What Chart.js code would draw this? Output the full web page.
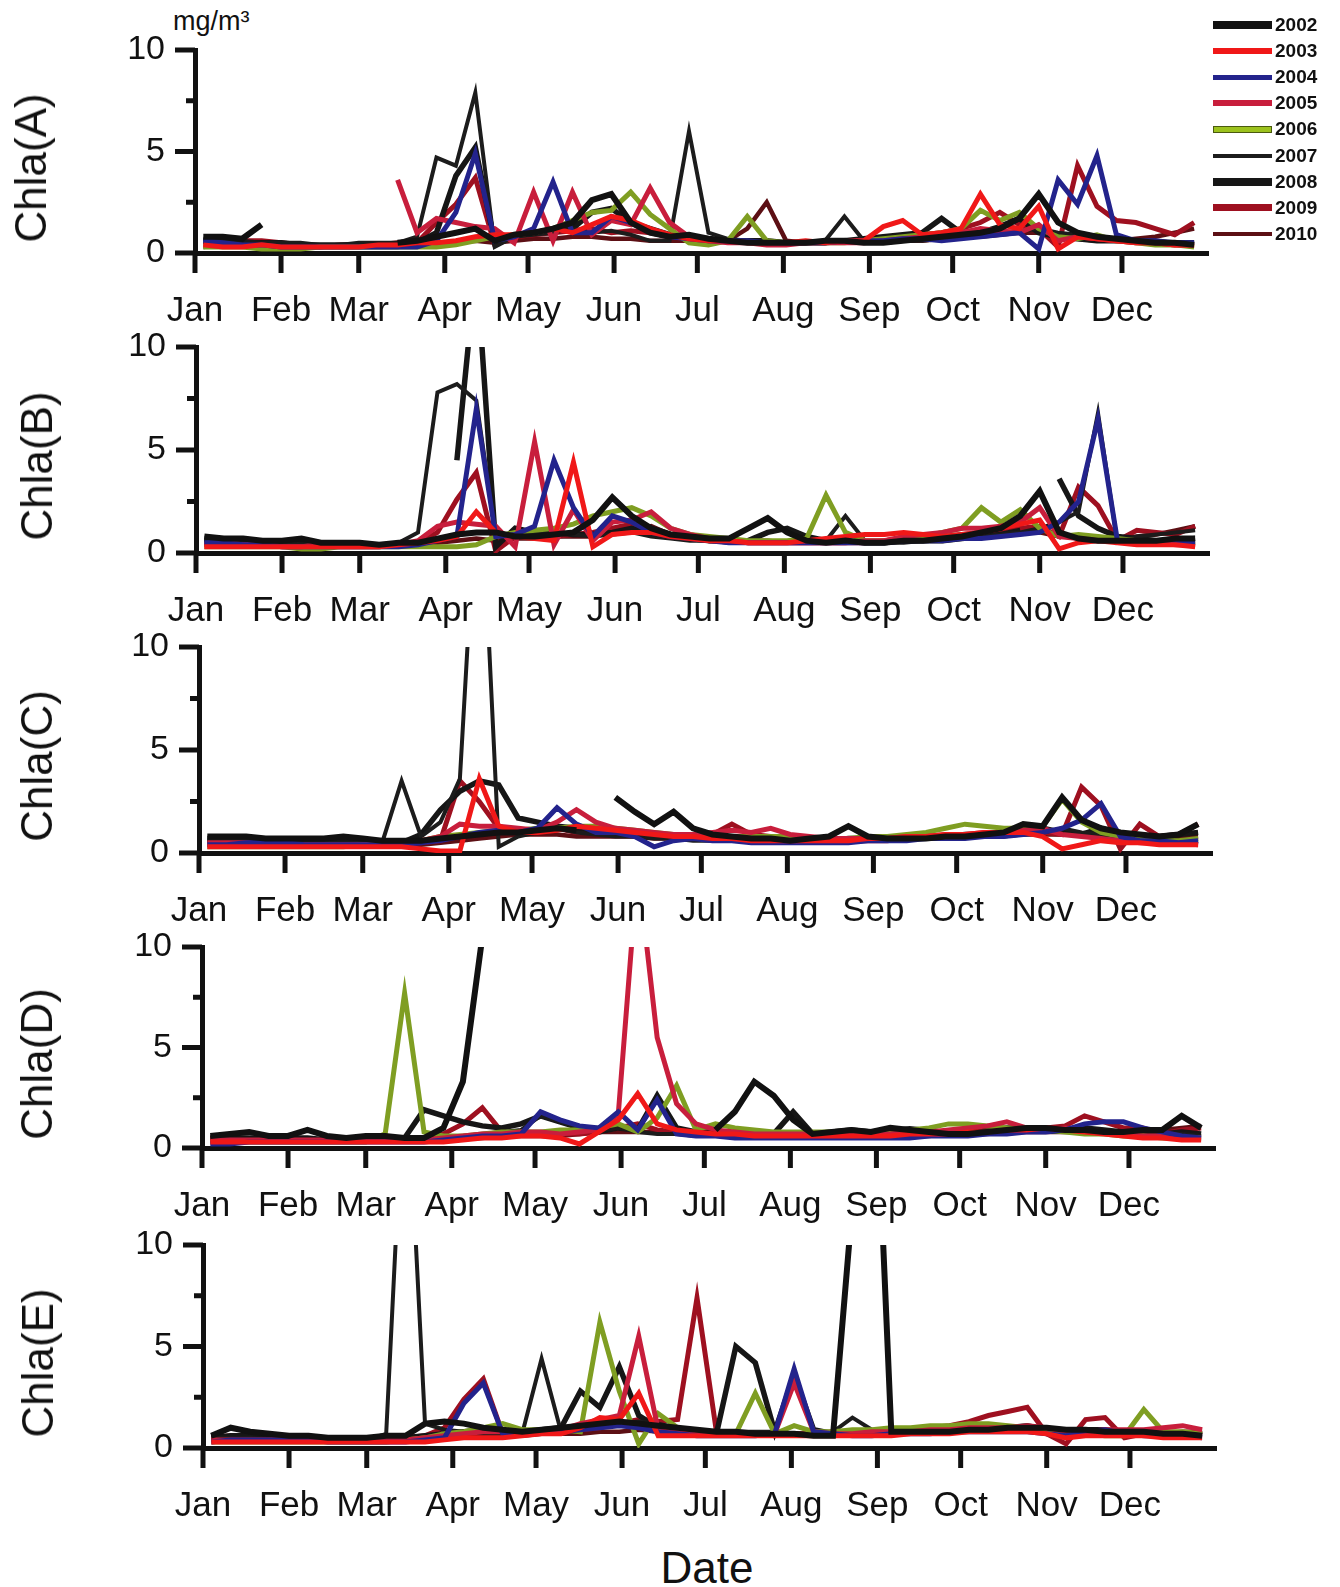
<!DOCTYPE html>
<html>
<head>
<meta charset="utf-8">
<script src="https://cdn.jsdelivr.net/npm/chart.js@4.4.0/dist/chart.umd.min.js"></script>
<style>
body { margin:0; background:#fff; width:1340px; height:1587px; position:relative; overflow:hidden; font-family:"Liberation Sans", Arial, sans-serif; color:#111; }
canvas { position:absolute; left:0; }
.ytitle { position:absolute; transform:translate(-50%,-50%) rotate(-90deg); font-size:44px; white-space:nowrap; }
.unit { position:absolute; left:173px; top:6px; font-size:27px; }
.date { position:absolute; left:707px; top:1568px; transform:translate(-50%,-50%); font-size:44px; }
.leg { position:absolute; left:1213px; font-size:19px; font-weight:bold; }
.leg span.sw { position:absolute; left:0; width:59px; }
.leg span.tx { position:absolute; left:62px; top:-11px; }
</style>
</head>
<body>
<div class="unit">mg/m³</div>
<div class="date">Date</div>
<script>
// sampling days (day of year) shared by every series
var sampleDays = [3,10,17,24,31,38,45,52,59,66,73,80,87,94,101,108,115,122,129,136,143,150,157,164,171,178,185,192,199,206,213,220,227,234,241,248,255,262,269,276,283,290,297,304,311,318,325,332,339,346,353,360];
var monthStarts = [0,31,59,90,120,151,181,212,243,273,304,334];
var monthNames = ['Jan','Feb','Mar','Apr','May','Jun','Jul','Aug','Sep','Oct','Nov','Dec'];
var years = ['2002','2003','2004','2005','2006','2007','2008','2009','2010'];

// Chla(A)
var chlaA_2002 = [0.8,0.8,0.7,1.4, null,null,null,null, null,null,0.5,0.6, 0.8,1.0,1.2,0.6, 0.9,1.0,1.2,1.5, 2.6,2.9,1.5,1.0, 0.8,0.9,0.7,0.6, 0.5,0.5,0.5,0.5, 0.6,0.6,0.5,0.5, 0.6,0.7,0.8,0.9, 1.0,1.2,1.7,2.9, 1.5,1.0,0.8,0.7, 0.6,0.5,0.5,0.4];
var chlaA_2003 = [0.4,0.3,0.3,0.4, 0.3,0.3,0.3,0.3, 0.3,0.4,0.4,0.5, 0.5,0.6,0.8,0.9, 0.9,1.0,1.2,1.0, 1.4,1.8,1.6,1.2, 0.9,0.7,0.6,0.6, 0.5,0.5,0.5,0.6, 0.5,0.6,0.6,1.3, 1.6,0.9,1.0,1.2, 2.9,1.4,1.2,2.3, 0.2,0.8,0.7,0.6, 0.5,0.5,0.4,0.4];
var chlaA_2004 = [0.6,0.5,0.4,0.4, 0.3,0.3,0.3,0.3, 0.3,0.3,0.3,0.3, 0.6,2.0,4.9,0.6, 0.8,1.2,3.5,1.0, 1.0,1.8,1.5,1.0, 0.8,0.7,0.6,0.6, 0.6,0.5,0.5,0.5, 0.5,0.6,0.6,0.6, 0.7,0.7,0.6,0.7, 0.8,0.9,1.0,0.2, 3.6,2.4,4.8,0.9, 0.6,0.6,0.5,0.5];
var chlaA_2005 = [null,null,null,null, null,null,null,null, null,null,3.6,1.0, 1.7,1.5,1.3,1.2, 0.5,3.0,0.6,3.0, 0.9,1.6,1.4,3.2, 1.5,0.8,0.6,0.5, 0.5,0.4,0.4,0.5, 0.5,0.5,0.5,0.6, 0.7,0.8,0.9,1.0, 1.2,1.1,1.0,1.4, 0.6,0.8,0.7,0.6, 0.5,0.5,0.4,0.4];
var chlaA_2006 = [0.3,0.3,0.3,0.2, 0.2,0.2,0.3,0.3, 0.3,0.3,0.3,0.3, 0.3,0.4,0.6,0.8, 0.9,1.0,1.2,1.6, 2.0,2.1,3.0,1.9, 1.2,0.5,0.4,0.6, 1.8,0.6,0.5,0.5, 0.5,0.5,0.6,0.7, 0.8,0.9,1.0,1.2, 2.1,1.6,2.0,1.2, 0.8,0.7,0.9,0.6, 0.5,0.4,0.4,0.3];
var chlaA_2007 = [0.7,0.6,0.6,0.5, 0.5,0.5,0.4,0.4, 0.5,0.5,0.5,0.8, 4.7,4.3,7.9,0.3, 0.8,0.9,1.0,1.2, 1.0,1.1,0.9,0.6, 0.6,6.0,1.0,0.7, 0.6,0.5,0.5,0.5, 0.6,1.8,0.6,0.5, 0.6,0.6,0.7,0.8, 0.9,1.0,1.1,1.2, 1.0,0.9,0.8,0.7, 0.6,0.6,0.5,0.5];
var chlaA_2008 = [0.6,0.5,0.5,0.5, 0.5,0.4,0.4,0.4, 0.4,0.4,0.4,0.5, 1.0,3.8,5.2,0.5, 0.9,1.0,1.1,1.2, 2.0,2.2,1.5,1.2, 0.9,0.8,0.7,0.6, 0.6,0.6,0.5,0.5, 0.5,0.6,0.7,0.8, 0.9,1.0,1.7,1.0, 1.0,1.3,1.7,1.0, 0.8,0.7,0.6,0.6, 0.6,0.5,0.5,0.5];
var chlaA_2009 = [0.4,0.5,0.6,0.6, 0.5,0.4,0.3,0.4, 0.4,0.4,0.5,0.5, 1.5,2.4,3.7,0.4, 0.8,0.9,1.0,1.1, 1.2,1.0,1.1,1.0, 0.8,0.7,0.6,0.6, 0.6,0.5,0.5,0.5, 0.5,0.6,0.6,0.7, 0.8,0.9,1.0,1.2, 1.5,2.0,1.4,1.2, 0.3,4.3,2.3,1.6, 1.5,1.2,0.9,1.5];
var chlaA_2010 = [0.3,0.4,0.4,0.3, 0.3,0.3,0.3,0.3, 0.3,0.3,0.3,0.4, 0.4,0.5,0.6,0.5, 0.6,0.7,0.7,0.8, 0.8,0.7,0.7,0.6, 0.6,0.6,0.6,0.6, 1.2,2.5,0.6,0.5, 0.5,0.5,0.5,0.5, 0.6,0.6,0.7,0.8, 0.8,0.9,1.0,1.0, 0.8,0.7,0.6,0.6, 0.7,0.8,1.0,1.2];

// Chla(B)
var chlaB_2002 = [0.8,0.7,0.7,0.6, 0.6,0.7,0.5,0.5, 0.5,0.4,0.5,0.5, 0.7,0.9,1.0,1.0, 0.8,0.8,0.9,1.0, 1.6,2.7,1.8,1.2, 0.9,0.8,0.7,0.7, 1.2,1.7,1.0,0.6, 0.5,0.6,0.5,0.5, 0.6,0.6,0.7,0.8, 1.0,1.2,1.8,3.0, 1.0,0.7,0.6,0.6, 0.6,0.6,0.7,0.7];
var chlaB_2003 = [0.3,0.3,0.3,0.3, 0.3,0.3,0.3,0.3, 0.3,0.3,0.4,0.5, 0.6,0.8,2.0,1.0, 0.8,0.7,0.6,4.4, 0.3,0.9,1.0,1.0, 0.8,0.7,0.6,0.6, 0.5,0.5,0.5,0.6, 0.7,0.8,0.9,0.9, 1.0,0.9,0.8,0.9, 1.0,1.2,1.4,1.6, 0.2,0.5,0.6,0.5, 0.4,0.4,0.4,0.3];
var chlaB_2004 = [0.5,0.5,0.4,0.4, 0.3,0.3,0.3,0.3, 0.3,0.3,0.3,0.4, 0.6,0.8,7.0,0.8, 0.9,1.3,4.5,2.2, 0.8,1.8,1.5,1.0, 0.8,0.7,0.6,0.5, 0.5,0.5,0.5,0.5, 0.5,0.5,0.5,0.5, 0.6,0.6,0.6,0.7, 0.7,0.8,0.9,1.0, 1.5,2.5,6.5,0.6, 0.6,0.6,0.5,0.5];
var chlaB_2005 = [0.4,0.5,0.4,0.4, 0.3,0.3,0.4,0.3, 0.3,0.3,0.4,0.6, 1.3,1.5,1.4,1.3, 0.3,5.4,0.4,2.1, 0.6,1.5,1.6,2.0, 1.2,0.9,0.7,0.6, 0.5,0.5,0.5,0.5, 0.5,0.5,0.6,0.6, 0.8,0.9,1.0,1.2, 1.2,1.3,1.5,2.2, 0.8,0.7,0.6,0.6, 0.5,0.5,0.4,0.4];
var chlaB_2006 = [0.3,0.3,0.3,0.3, 0.3,0.2,0.2,0.3, 0.3,0.3,0.3,0.3, 0.3,0.3,0.4,0.8, 1.0,1.1,1.2,1.4, 1.8,2.0,2.2,1.8, 1.2,0.9,0.8,0.7, 0.6,0.6,0.6,0.7, 2.8,1.0,0.6,0.6, 0.7,0.8,1.0,1.2, 2.2,1.5,2.1,1.2, 0.8,0.9,0.8,0.7, 0.6,0.5,0.5,0.4];
var chlaB_2007 = [0.6,0.6,0.5,0.5, 0.5,0.4,0.4,0.4, 0.4,0.4,0.5,1.0, 7.8,8.2,7.4,0.8, 0.8,0.9,1.0,0.9, 0.8,0.9,1.0,0.8, 0.7,0.6,0.6,0.5, 0.5,0.5,0.5,0.6, 0.6,1.8,0.6,0.5, 0.5,0.6,0.6,0.7, 0.8,0.9,1.0,1.2, 1.5,2.0,6.8,0.5, 0.8,0.9,1.0,1.1];
var chlaB_2008 = [0.7,0.6,0.6,0.5, 0.5,0.5,0.5,0.4, 0.4,0.4,0.4,null, null,4.5,14,0.3, 1.2,1.0,1.0,0.9, 0.9,1.0,1.2,0.9, 0.8,0.7,0.6,0.6, 0.6,1.0,1.2,0.8, 0.6,0.6,0.5,0.5, 0.6,0.6,0.6,0.7, 0.8,0.9,1.1,null, 3.6,1.8,1.2,0.8, 0.7,0.6,0.6,0.7];
var chlaB_2009 = [0.5,0.5,0.4,0.4, 0.4,0.3,0.3,0.4, 0.4,0.4,0.4,0.5, 1.0,2.6,3.9,0.1, 0.8,0.9,0.8,0.9, 1.0,1.2,1.4,1.2, 0.9,0.8,0.6,0.6, 0.5,0.5,0.5,0.5, 0.5,0.5,0.5,0.6, 0.7,0.7,0.8,0.9, 1.0,1.1,1.2,1.3, 0.8,3.2,2.3,0.6, 1.1,1.0,0.9,1.3];
var chlaB_2010 = [0.4,0.4,0.3,0.3, 0.3,0.3,0.3,0.3, 0.3,0.3,0.3,0.4, 0.5,0.6,0.7,0.6, 0.7,0.7,0.8,0.8, 0.8,1.0,1.1,1.3, 0.9,0.7,0.6,0.6, 0.6,0.6,0.5,0.5, 0.5,0.5,0.5,0.6, 0.6,0.7,0.8,0.8, 0.8,0.9,1.0,1.0, 0.8,0.8,0.7,0.7, 0.8,0.9,1.1,1.3];

// Chla(C)
var chlaC_2002 = [0.8,0.8,0.8,0.7, 0.7,0.7,0.7,0.8, 0.7,0.6,0.6,0.6, 0.7,0.8,0.9,1.0, 1.0,1.1,1.2,1.1, null,2.7,2.0,1.4, 2.0,1.2,0.9,0.8, 0.7,0.7,0.6,0.7, 0.8,1.3,0.8,0.7, 0.7,0.7,0.8,0.8, 0.9,1.0,1.4,1.3, 2.7,1.6,1.2,1.0, 0.9,0.8,0.9,1.4];
var chlaC_2003 = [0.3,0.3,0.3,0.3, 0.3,0.3,0.3,0.3, 0.3,0.3,0.3,0.2, 0.1,0.1,3.6,1.3, 1.0,1.0,1.1,1.3, 1.2,1.1,1.0,0.9, 0.8,0.8,0.7,0.7, 0.6,0.6,0.6,0.6, 0.6,0.6,0.7,0.7, 0.8,0.8,0.9,0.9, 1.0,1.0,1.0,0.8, 0.2,0.4,0.6,0.5, 0.5,0.4,0.4,0.4];
var chlaC_2004 = [0.4,0.4,0.5,0.5, 0.5,0.4,0.4,0.4, 0.4,0.4,0.4,0.5, 0.6,0.8,1.0,1.1, 1.0,1.2,2.2,1.4, 1.0,1.0,0.8,0.3, 0.6,0.7,0.6,0.6, 0.5,0.5,0.5,0.5, 0.5,0.5,0.6,0.6, 0.6,0.7,0.7,0.7, 0.8,0.8,0.9,1.0, 1.2,1.6,2.4,0.8, 0.6,0.6,0.5,0.6];
var chlaC_2005 = [0.5,0.5,0.5,0.4, 0.4,0.4,0.4,0.4, 0.4,0.4,0.5,0.6, 0.8,1.4,1.3,1.3, 1.2,1.1,1.5,2.1, 1.5,1.2,1.1,1.0, 0.9,0.9,1.0,1.1, 1.0,1.2,0.9,0.8, 0.7,0.7,0.7,0.7, 0.8,0.8,0.9,0.9, 1.0,1.0,1.1,1.2, 0.9,0.8,0.7,0.6, 0.5,0.5,0.5,0.4];
var chlaC_2006 = [0.3,0.3,0.3,0.3, 0.3,0.3,0.3,0.3, 0.4,0.4,0.5,0.6, 0.8,0.9,1.0,1.1, 1.1,1.2,1.2,1.3, 1.3,1.2,1.1,1.0, 0.9,0.9,0.8,0.8, 0.8,0.8,0.8,0.7, 0.7,0.7,0.8,0.8, 0.9,1.0,1.2,1.4, 1.3,1.2,1.2,1.3, 2.6,1.5,1.0,0.8, 0.7,0.6,0.6,0.7];
var chlaC_2007 = [0.6,0.6,0.6,0.5, 0.5,0.5,0.5,0.5, 0.5,0.5,3.5,0.8, 1.5,3.6,20,0.3, 0.8,1.0,1.2,1.0, 0.9,0.8,0.8,0.7, 0.7,0.6,0.6,0.6, 0.6,0.6,0.6,0.6, 0.6,0.6,0.6,0.6, 0.7,0.7,0.7,0.8, 0.8,0.8,0.9,1.0, 1.2,1.0,0.9,0.8, 0.8,0.7,0.6,0.6];
var chlaC_2008 = [0.7,0.7,0.6,0.6, 0.6,0.6,0.6,0.6, 0.5,0.5,0.5,0.9, 2.1,3.0,3.5,3.3, 1.7,1.5,1.3,1.2, 1.1,1.0,0.9,0.9, 0.8,0.8,0.7,0.7, 0.6,0.6,0.6,0.6, 0.6,0.7,0.7,0.7, 0.8,0.8,0.8,0.9, 0.9,1.0,1.3,1.2, 1.0,0.9,1.2,0.9, 0.8,0.8,0.9,1.0];
var chlaC_2009 = [0.5,0.5,0.5,0.5, 0.5,0.5,0.5,0.5, 0.5,0.5,0.5,0.5, 0.6,3.5,2.5,1.2, 1.0,1.1,1.2,1.0, 1.0,1.1,1.0,0.9, 0.9,0.8,0.9,1.4, 0.9,0.8,0.7,0.7, 0.6,0.6,0.6,0.6, 0.7,0.7,0.8,0.8, 0.9,0.9,1.0,1.0, 0.9,3.2,2.3,0.2, 1.4,0.8,0.9,1.4];
var chlaC_2010 = [0.4,0.4,0.4,0.4, 0.4,0.4,0.4,0.4, 0.4,0.4,0.4,0.4, 0.5,0.6,0.7,0.8, 0.9,0.9,0.9,0.8, 0.8,0.8,0.8,0.7, 0.7,0.7,0.7,0.7, 0.7,0.7,0.7,0.7, 0.7,0.7,0.7,0.7, 0.7,0.8,0.8,0.8, 0.8,0.9,0.9,0.9, 0.9,0.9,0.8,0.8, 0.8,0.7,0.7,0.8];

// Chla(D)
var chlaD_2002 = [0.6,0.7,0.8,0.6, 0.6,0.9,0.6,0.5, 0.6,0.6,0.5,0.5, 1.0,3.3,10.5,null, null,null,null,null, null,null,null,null, null,null,0.9,1.8, 3.3,2.6,1.4,0.7, 0.8,0.9,0.8,1.0, 0.9,0.8,0.7,0.7, 0.8,0.9,1.0,1.0, 0.9,0.9,0.8,0.8, 0.9,0.9,1.6,1.0];
var chlaD_2003 = [0.3,0.3,0.3,0.3, 0.3,0.3,0.3,0.3, 0.3,0.3,0.3,0.3, 0.3,0.4,0.5,0.5, 0.6,0.6,0.5,0.2, 0.8,1.4,2.7,1.2, 0.9,0.8,0.7,0.7, 0.6,0.6,0.6,0.6, 0.6,0.6,0.6,0.6, 0.7,0.7,0.7,0.8, 0.8,0.9,0.9,1.0, 0.9,0.8,0.7,0.6, 0.5,0.5,0.4,0.4];
var chlaD_2004 = [0.2,0.2,0.3,0.3, 0.3,0.3,0.3,0.3, 0.3,0.3,0.3,0.3, 0.4,0.5,0.6,0.6, 0.7,1.8,1.4,1.1, 1.0,1.8,0.9,2.4, 0.7,0.6,0.6,0.5, 0.5,0.5,0.5,0.5, 0.5,0.5,0.5,0.5, 0.5,0.6,0.6,0.6, 0.7,0.7,0.8,0.8, 0.9,1.2,1.3,1.3, 1.0,0.8,0.6,0.5];
var chlaD_2005 = [0.4,0.4,0.4,0.4, 0.4,0.4,0.4,0.4, 0.4,0.4,0.4,0.4, 0.5,0.6,0.7,0.7, 0.8,0.8,0.7,0.8, 0.9,1.7,14,5.5, 2.2,1.2,0.9,0.8, 0.7,0.7,0.7,0.7, 0.7,0.7,0.7,0.7, 0.8,0.8,0.9,1.0, 1.1,1.3,1.0,0.9, 1.0,0.9,0.8,0.7, 0.6,0.6,0.5,0.5];
var chlaD_2006 = [0.3,0.3,0.3,0.3, 0.3,0.3,0.3,0.3, 0.3,0.7,7.7,0.8, 0.6,0.6,0.7,0.8, 0.8,0.8,0.9,0.9, 1.0,1.2,0.8,1.5, 3.1,0.9,1.2,1.0, 0.9,0.8,0.8,0.8, 0.8,0.8,0.8,0.8, 0.9,1.0,1.2,1.2, 1.1,1.0,1.0,0.9, 0.8,0.7,0.7,0.6, 0.6,0.5,0.5,0.5];
var chlaD_2007 = [0.5,0.4,0.4,0.4, 0.4,0.4,0.4,0.4, 0.4,0.4,0.4,0.5, 0.5,0.6,0.7,0.8, 0.9,1.6,1.3,1.0, 0.9,1.0,0.8,0.7, 0.7,0.6,0.6,0.6, 0.6,0.6,0.6,0.6, 0.6,0.9,0.8,0.9, 1.0,0.9,0.8,0.8, 0.8,0.8,0.8,0.8, 0.8,0.8,0.8,0.8, 0.7,0.7,0.7,0.6];
var chlaD_2008 = [0.5,0.5,0.5,0.5, 0.5,0.5,0.4,0.4, 0.4,0.4,0.5,1.9, 1.6,1.3,1.1,1.0, 1.2,1.6,1.3,1.0, 0.8,1.0,0.9,2.6, 1.0,0.8,0.8,0.7, 0.6,0.7,1.8,0.7, 0.8,0.9,0.8,0.8, 0.7,0.7,0.8,0.8, 0.9,1.0,1.0,1.0, 0.9,1.0,0.9,0.8, 0.7,0.7,0.8,0.7];
var chlaD_2009 = [0.5,0.5,0.4,0.4, 0.4,0.4,0.4,0.4, 0.4,0.4,0.5,0.5, 0.7,1.2,2.0,0.8, 0.7,0.7,0.7,0.7, 0.8,1.0,1.2,0.9, 0.8,0.7,0.7,0.6, 0.6,0.6,0.6,0.6, 0.6,0.6,0.6,0.6, 0.7,0.7,0.8,0.8, 0.9,0.9,0.9,1.0, 1.1,1.6,1.3,1.0, 1.0,0.7,0.9,1.0];
var chlaD_2010 = [0.4,0.4,0.4,0.4, 0.4,0.4,0.4,0.4, 0.4,0.4,0.4,0.4, 0.4,0.5,0.5,0.6, 0.6,0.6,0.6,0.7, 0.8,0.8,0.8,0.8, 0.8,0.7,0.7,0.7, 0.6,0.6,0.6,0.6, 0.6,0.6,0.6,0.6, 0.6,0.6,0.7,0.7, 0.7,0.8,0.8,0.8, 0.8,0.8,0.8,0.8, 0.8,0.9,1.0,1.1];

// Chla(E)
var chlaE_2002 = [0.6,1.0,0.8,0.7, 0.6,0.6,0.5,0.5, 0.5,0.6,0.6,1.2, 1.3,1.2,1.0,0.9, 0.8,0.9,1.0,1.1, 1.2,1.3,1.2,1.1, 1.0,0.9,0.8,0.8, 0.7,0.7,0.7,0.6, 0.6,12,23,0.8, 0.8,0.8,0.8,0.9, 0.9,1.0,1.0,1.0, 0.9,0.9,0.8,0.8, 0.8,0.7,0.7,0.6];
var chlaE_2003 = [0.3,0.3,0.3,0.3, 0.3,0.3,0.3,0.3, 0.3,0.3,0.3,0.3, 0.4,0.5,0.5,0.5, 0.6,0.7,0.7,1.0, 1.5,1.4,2.7,0.6, 0.6,0.6,0.6,0.6, 0.6,0.6,0.6,0.6, 0.6,0.6,0.6,0.6, 0.7,0.7,0.7,0.8, 0.8,0.8,0.8,0.7, 0.5,0.6,0.6,0.6, 0.6,0.5,0.5,0.5];
var chlaE_2004 = [0.3,0.4,0.4,0.4, 0.4,0.4,0.3,0.3, 0.3,0.3,0.3,0.4, 0.5,2.2,3.2,0.7, 0.7,0.8,0.8,0.9, 1.0,1.1,1.0,0.8, 0.7,0.6,0.6,0.6, 0.6,0.7,3.9,0.8, 0.7,0.6,0.6,0.7, 0.7,0.7,0.8,0.8, 0.8,0.8,0.8,0.7, 0.6,0.8,0.9,0.7, 0.6,0.6,0.6,0.5];
var chlaE_2005 = [0.4,0.4,0.4,0.4, 0.4,0.4,0.4,0.4, 0.4,0.4,0.4,0.5, 0.6,0.7,0.8,0.8, 0.8,0.8,0.9,1.2, 1.4,1.6,5.5,0.9, 0.8,0.7,0.7,0.7, 0.7,0.7,3.2,0.8, 0.7,0.7,0.8,0.8, 0.8,0.9,0.9,1.0, 1.0,1.0,1.1,1.0, 0.8,0.8,0.9,0.9, 0.9,1.0,1.1,0.9];
var chlaE_2006 = [0.3,0.3,0.3,0.3, 0.3,0.3,0.3,0.3, 0.3,0.3,0.4,0.5, 0.7,0.8,1.0,1.2, 0.9,0.9,0.9,0.8, 6.2,2.8,0.2,1.7, 1.0,0.8,0.7,0.7, 2.7,0.7,1.1,0.8, 0.8,0.9,0.9,1.0, 1.0,1.1,1.1,1.2, 1.2,1.1,1.0,0.9, 0.7,0.7,0.6,0.6, 1.9,0.8,0.8,0.7];
var chlaE_2007 = [0.5,0.5,0.5,0.4, 0.4,0.4,0.4,0.4, 0.4,0.7,20,1.2, 0.9,0.8,0.7,0.7, 0.7,4.4,0.8,1.0, 1.1,1.2,1.3,1.2, 1.0,0.9,0.8,0.8, 0.8,0.8,0.7,0.7, 0.8,1.5,0.9,0.8, 0.8,0.8,0.9,0.9, 1.0,1.0,0.9,0.9, 0.8,0.8,0.8,0.8, 0.7,0.7,0.7,0.7];
var chlaE_2008 = [0.5,0.6,0.6,0.5, 0.5,0.4,0.4,0.4, 0.4,0.4,0.5,0.6, 0.7,0.8,0.9,0.8, 0.8,0.9,1.0,2.8, 2.0,4.0,1.6,1.0, 0.9,0.8,0.7,5.0, 4.2,0.8,3.6,0.9, 0.7,0.7,0.8,0.8, 0.8,0.9,0.9,1.0, 1.0,1.0,1.1,0.9, 0.8,0.9,0.9,0.8, 0.8,0.7,0.7,0.7];
var chlaE_2009 = [0.5,0.6,0.6,0.5, 0.5,0.4,0.4,0.4, 0.4,0.4,0.5,0.6, 1.0,2.4,3.4,0.7, 0.7,0.8,0.8,0.9, 1.0,1.2,1.4,1.3, 1.4,7.4,0.8,0.7, 0.7,0.7,0.7,0.7, 0.8,0.8,0.8,0.8, 0.9,1.0,1.1,1.3, 1.6,1.8,2.0,0.7, 0.2,1.4,1.5,0.5, 0.7,0.8,0.7,0.8];
var chlaE_2010 = [0.4,0.4,0.4,0.4, 0.4,0.4,0.4,0.4, 0.4,0.4,0.4,0.4, 0.5,0.5,0.6,0.6, 0.6,0.7,0.7,0.7, 0.8,0.8,0.9,0.8, 0.8,0.8,0.7,0.7, 0.7,0.7,0.7,0.7, 0.7,0.7,0.7,0.8, 0.8,0.8,0.9,0.9, 1.0,1.0,1.0,0.9, 0.8,0.8,0.8,0.7, 0.7,0.7,0.8,0.8];

// styling
var yearColors = ['#111111','#f01818','#23238c','#c81e3c','#7f9e22','#1c1c1c','#161616','#9e1020','#5c0f14'];
var lineWidths = [6, 5, 5, 5, 5, 4, 5.5, 5, 4.5];
var legendWidths = [8, 6, 5, 6, 7, 4, 8, 7, 4];
var FONT = 'Liberation Sans';

var panels = [
  {name: 'Chla(A)', series: [chlaA_2002, chlaA_2003, chlaA_2004, chlaA_2005, chlaA_2006, chlaA_2007, chlaA_2008, chlaA_2009, chlaA_2010], left: 195, top: 50, bottom: 253, titleX: 31},
  {name: 'Chla(B)', series: [chlaB_2002, chlaB_2003, chlaB_2004, chlaB_2005, chlaB_2006, chlaB_2007, chlaB_2008, chlaB_2009, chlaB_2010], left: 196, top: 347, bottom: 553, titleX: 37},
  {name: 'Chla(C)', series: [chlaC_2002, chlaC_2003, chlaC_2004, chlaC_2005, chlaC_2006, chlaC_2007, chlaC_2008, chlaC_2009, chlaC_2010], left: 199, top: 647, bottom: 853, titleX: 37},
  {name: 'Chla(D)', series: [chlaD_2002, chlaD_2003, chlaD_2004, chlaD_2005, chlaD_2006, chlaD_2007, chlaD_2008, chlaD_2009, chlaD_2010], left: 202, top: 947, bottom: 1148, titleX: 37},
  {name: 'Chla(E)', series: [chlaE_2002, chlaE_2003, chlaE_2004, chlaE_2005, chlaE_2006, chlaE_2007, chlaE_2008, chlaE_2009, chlaE_2010], left: 203, top: 1245, bottom: 1448, titleX: 38}
];

var PAD_TOP = 24, XAXIS_H = 80, PLOT_W = 1013;

// outward tick marks: long at labelled values, short in between
var axisTicks = {
  id: 'axisTicks',
  afterDraw: function(chart) {
    var ctx = chart.ctx, xs = chart.scales.x, ys = chart.scales.y, a = chart.chartArea;
    ctx.save();
    ctx.strokeStyle = '#111';
    ctx.lineWidth = 5;
    ys.ticks.forEach(function(t) {
      var py = ys.getPixelForValue(t.value);
      var len = t.value % 5 === 0 ? 20 : 9;
      ctx.beginPath(); ctx.moveTo(a.left - len, py); ctx.lineTo(a.left, py); ctx.stroke();
    });
    xs.ticks.forEach(function(t) {
      var px = xs.getPixelForValue(t.value);
      ctx.beginPath(); ctx.moveTo(px, a.bottom); ctx.lineTo(px, a.bottom + 20); ctx.stroke();
    });
    ctx.restore();
  }
};

panels.forEach(function(p) {
  var cv = document.createElement('canvas');
  var h = (p.bottom - p.top) + PAD_TOP + XAXIS_H;
  cv.width = 1340;
  cv.height = h;
  cv.style.top = (p.top - PAD_TOP) + 'px';
  document.body.appendChild(cv);

  var t = document.createElement('div');
  t.className = 'ytitle';
  t.textContent = p.name;
  t.style.left = p.titleX + 'px';
  t.style.top = ((p.top + p.bottom) / 2 + 16) + 'px';
  document.body.appendChild(t);

  var datasets = years.map(function(y, k) {
    return {
      label: y,
      data: sampleDays.map(function(d, i) { return {x: d, y: p.series[k][i]}; }),
      borderColor: yearColors[k],
      borderWidth: lineWidths[k],
      pointRadius: 0,
      tension: 0,
      fill: false,
      spanGaps: false
    };
  });

  new Chart(cv, {
    type: 'line',
    data: {datasets: datasets},
    plugins: [axisTicks],
    options: {
      responsive: false,
      animation: false,
      events: [],
      layout: {padding: {top: 0, left: 0, bottom: 0, right: 1340 - (p.left + PLOT_W)}},
      plugins: {legend: {display: false}, tooltip: {enabled: false}},
      scales: {
        x: {
          type: 'linear', min: 0, max: 365,
          grid: {display: false, drawTicks: false},
          border: {display: true, color: '#111', width: 5},
          afterBuildTicks: function(s) { s.ticks = monthStarts.map(function(v) { return {value: v}; }); },
          afterFit: function(s) { s.height = XAXIS_H; s.paddingLeft = 0; s.paddingRight = 0; },
          ticks: {
            autoSkip: false, maxRotation: 0, padding: 37, color: '#111',
            font: {family: FONT, size: 35},
            callback: function(v) { var k = monthStarts.indexOf(v); return k >= 0 ? monthNames[k] : ''; }
          }
        },
        y: {
          min: 0, max: 10,
          grid: {display: false, drawTicks: false},
          border: {display: true, color: '#111', width: 5},
          afterFit: function(s) { s.width = p.left; s.paddingTop = PAD_TOP; s.paddingBottom = 0; },
          ticks: {
            stepSize: 2.5, padding: 30, color: '#111',
            font: {family: FONT, size: 34},
            callback: function(v) { return v % 5 === 0 ? v : ''; }
          }
        }
      }
    }
  });
});

// legend
years.forEach(function(y, k) {
  var row = document.createElement('div');
  row.className = 'leg';
  row.style.top = (25 + k * 26.1) + 'px';
  var sw = document.createElement('span');
  sw.className = 'sw';
  sw.style.height = legendWidths[k] + 'px';
  sw.style.top = (-legendWidths[k] / 2) + 'px';
  sw.style.background = k === 4 ? '#9cc21e' : yearColors[k];
  if (k === 4) sw.style.boxShadow = 'inset 0 0 0 1px #4a5a10';
  var tx = document.createElement('span');
  tx.className = 'tx';
  tx.textContent = y;
  row.appendChild(sw);
  row.appendChild(tx);
  document.body.appendChild(row);
});
</script>
</body>
</html>
